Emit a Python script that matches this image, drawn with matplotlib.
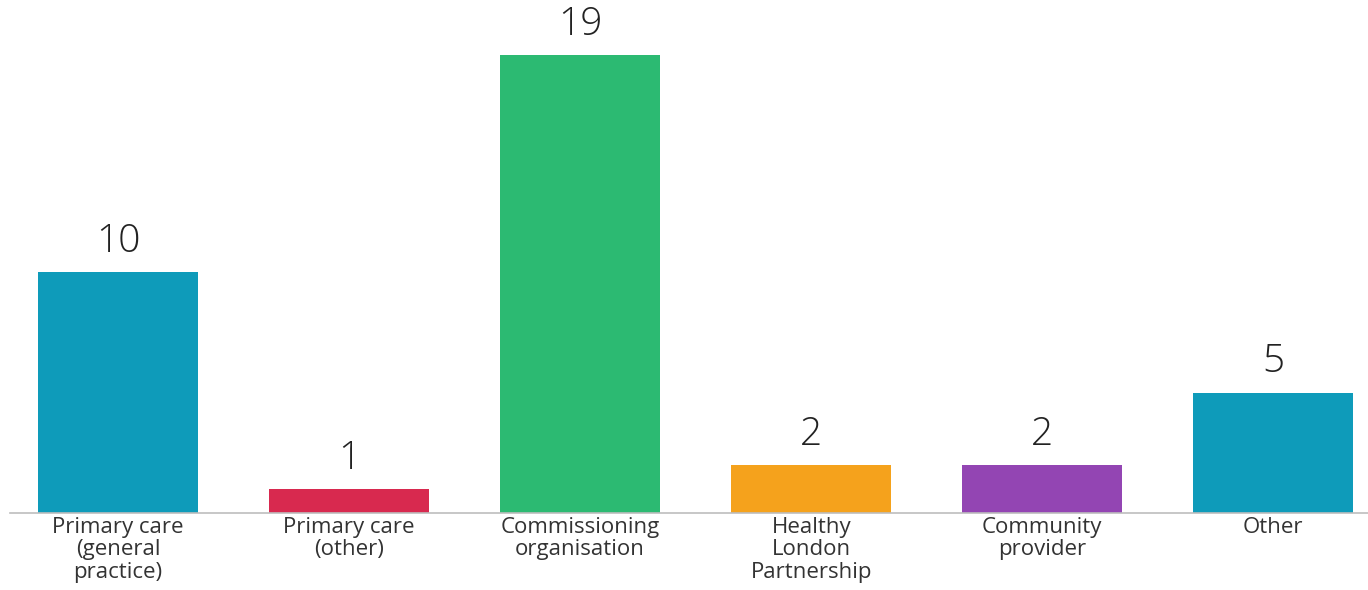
import matplotlib.pyplot as plt

# Respondents by organisation type
categories = ["Primary care\n(general\npractice)", "Primary care\n(other)",
              "Commissioning\norganisation", "Healthy\nLondon\nPartnership",
              "Community\nprovider", "Other"]
counts = [10, 1, 19, 2, 2, 5]
colours = ["#0E9BBA", "#D8294F", "#2CBA72", "#F5A21C", "#9345B3", "#0E9BBA"]

plt.rcParams['font.family'] = ['Open Sans', 'DejaVu Sans']

fig = plt.figure(figsize=(13.68, 5.9), dpi=100)
ax = fig.add_axes([10 / 1368, 77 / 590, 1358 / 1368, 513 / 590])

x = range(len(counts))
bars = ax.bar(x, counts, width=0.693, color=colours, zorder=2)

for rect, n in zip(bars, counts):
    ax.annotate(str(n), (rect.get_x() + rect.get_width() / 2, rect.get_height()),
                xytext=(0, 8), textcoords="offset points",
                ha="center", va="bottom", fontsize=28, color="#222222",
                fontweight="light")

ax.set_xlim(-0.468, 5.41)
ax.set_ylim(0, 21.29)
ax.set_xticks(list(x))
ax.set_xticklabels(categories, fontsize=16, color="#333333", linespacing=1.08)
ax.tick_params(axis="x", length=0, pad=3)
ax.set_yticks([])

for side in ["top", "right", "left"]:
    ax.spines[side].set_visible(False)
ax.spines["bottom"].set_color("#BDBDBD")
ax.spines["bottom"].set_linewidth(1.2)

fig.savefig("out.png", dpi=100)
